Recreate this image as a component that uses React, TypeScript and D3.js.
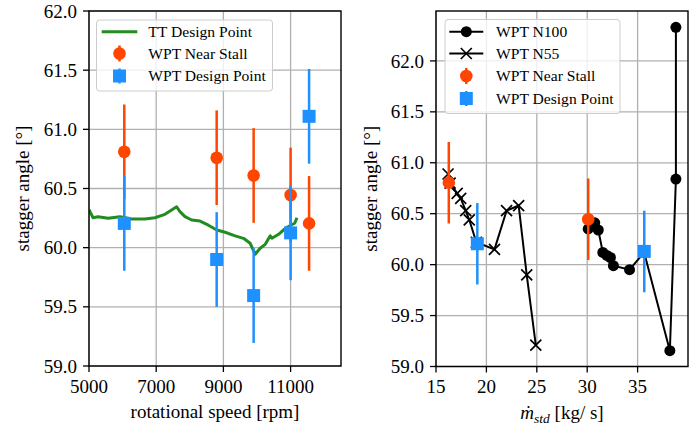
import React from 'react';
import * as d3 from 'd3';

// ---------- data ----------
const ttSpeed = [5000, 5120, 5270, 5570, 5916, 6050, 6265, 6663, 6961, 7260, 7458, 7608, 7707, 7857, 8056, 8305, 8553, 8802, 9051, 9349, 9597, 9797, 9946, 10095, 10245, 10394, 10444, 10643, 10842, 10980, 11120, 11190];
const ttAngle = [60.32, 60.253, 60.262, 60.248, 60.262, 60.255, 60.242, 60.242, 60.253, 60.282, 60.318, 60.346, 60.304, 60.262, 60.234, 60.225, 60.19, 60.149, 60.13, 60.1, 60.079, 60.037, 59.944, 59.995, 60.028, 60.1, 60.08, 60.113, 60.163, 60.185, 60.206, 60.253];

const stallSpeed = [6050, 8800, 9900, 11000, 11550];
const stallAngle = [60.81, 60.76, 60.61, 60.445, 60.205];
const designSpeed = [6050, 8800, 9900, 11000, 11550];
const designAngle = [60.205, 59.9, 59.595, 60.125, 61.11];
const errLeft = 0.4;

const n100Mass = [30.1, 30.75, 31.1, 31.55, 31.95, 32.3, 32.6, 34.2, 35.65, 38.2, 38.8, 38.8];
const n100Angle = [60.35, 60.41, 60.34, 60.12, 60.09, 60.07, 59.99, 59.95, 60.12, 59.155, 60.84, 62.33];
const n55Mass = [16.2, 16.4, 17.1, 17.45, 17.95, 18.3, 19.0, 20.8, 22.0, 23.2, 24.0, 24.9];
const n55Angle = [60.89, 60.8, 60.7, 60.65, 60.53, 60.44, 60.22, 60.15, 60.53, 60.58, 59.9, 59.21];
const stallMass = [16.27, 30.1];
const stallAngleR = [60.805, 60.445];
const designMass = [19.1, 35.66];
const designAngleR = [60.205, 60.13];
const errRight = 0.4;

const leftXTicks = [5000, 7000, 9000, 11000];
const yTicks = [59.0, 59.5, 60.0, 60.5, 61.0, 61.5, 62.0];
const rightXTicks = [15, 20, 25, 30, 35];

// ---------- style ----------
const FONT = '"Liberation Serif", "Times New Roman", serif';
const GREEN = '#228B22';
const ORANGE = '#FF4500';
const BLUE = '#1E90FF';
const GRID = '#b0b0b0';

const L = { x0: 89, x1: 341, y0: 11, y1: 366 };
const R = { x0: 436, x1: 688, y0: 11, y1: 366.5 };

const xL = d3.scaleLinear().domain([5000, 12500]).range([L.x0, L.x1]);
const yL = d3.scaleLinear().domain([59, 62]).range([L.y1, L.y0]);
const xR = d3.scaleLinear().domain([15, 40]).range([R.x0, R.x1]);
const yR = d3.scaleLinear().domain([59.0, 62.49]).range([R.y1, R.y0]);

function Circle({ cx, cy, r, fill }: any) {
  return <circle cx={cx} cy={cy} r={r} fill={fill} />;
}
function Square({ cx, cy, s, fill }: any) {
  return <rect x={cx - s / 2} y={cy - s / 2} width={s} height={s} fill={fill} />;
}
function XMark({ cx, cy, s }: any) {
  return (
    <path d={`M${cx - s},${cy - s}L${cx + s},${cy + s}M${cx - s},${cy + s}L${cx + s},${cy - s}`} stroke="#000" strokeWidth={1.7} />
  );
}

function Axes({ box, xs, ys, xticks, xfmt }: any) {
  return (
    <g>
      {xticks.map((t: number) => (
        <line key={'gx' + t} x1={xs(t)} x2={xs(t)} y1={box.y0} y2={box.y1} stroke={GRID} strokeWidth={1.3} />
      ))}
      {yTicks.map((t) => (
        <line key={'gy' + t} x1={box.x0} x2={box.x1} y1={ys(t)} y2={ys(t)} stroke={GRID} strokeWidth={1.3} />
      ))}
    </g>
  );
}

function Frame({ box, xs, ys, xticks, xfmt }: any) {
  return (
    <g fontFamily={FONT} fontSize={19} fill="#000">
      <rect x={box.x0} y={box.y0} width={box.x1 - box.x0} height={box.y1 - box.y0} fill="none" stroke="#000" strokeWidth={1.4} />
      {xticks.map((t: number) => (
        <g key={'tx' + t}>
          <line x1={xs(t)} x2={xs(t)} y1={box.y1} y2={box.y1 + 6} stroke="#000" strokeWidth={1.3} />
          <text x={xs(t)} y={393} textAnchor="middle">{xfmt(t)}</text>
        </g>
      ))}
      {yTicks.map((t) => (
        <g key={'ty' + t}>
          <line x1={box.x0 - 6} x2={box.x0} y1={ys(t)} y2={ys(t)} stroke="#000" strokeWidth={1.3} />
          <text x={box.x0 - 12} y={ys(t)} dy="0.35em" textAnchor="end">{d3.format('.1f')(t)}</text>
        </g>
      ))}
    </g>
  );
}

function ErrBars({ xs, ys, xv, yv, err, color }: any) {
  return (
    <g>
      {xv.map((x: number, i: number) => (
        <line key={i} x1={xs(x)} x2={xs(x)} y1={ys(yv[i] - err)} y2={ys(yv[i] + err)} stroke={color} strokeWidth={2.5} />
      ))}
    </g>
  );
}

export default function App() {
  const ttLine = d3.line<number>().x((d, i) => xL(ttSpeed[i])).y((d) => yL(d))(ttAngle) as string;
  const n100Line = d3.line<number>().x((d, i) => xR(n100Mass[i])).y((d) => yR(d))(n100Angle) as string;
  const n55Line = d3.line<number>().x((d, i) => xR(n55Mass[i])).y((d) => yR(d))(n55Angle) as string;

  const lLeg = { x: 96.5, y: 20, w: 176, h: 71 };
  const rLeg = { x: 445, y: 19.5, w: 175, h: 94 };

  return (
    <svg width={694} height={429} style={{ position: 'absolute', left: 0, top: 0, background: '#fff' }}>
      <rect x={0} y={0} width={694} height={429} fill="#fff" />
      {/* ---------------- LEFT ---------------- */}
      <defs>
        <clipPath id="clipL"><rect x={L.x0} y={L.y0} width={L.x1 - L.x0} height={L.y1 - L.y0} /></clipPath>
        <clipPath id="clipR"><rect x={R.x0} y={R.y0} width={R.x1 - R.x0} height={R.y1 - R.y0} /></clipPath>
      </defs>
      <Axes box={L} xs={xL} ys={yL} xticks={leftXTicks} />
      <g clipPath="url(#clipL)">
        <path d={ttLine} fill="none" stroke={GREEN} strokeWidth={3} strokeLinejoin="round" />
        <ErrBars xs={xL} ys={yL} xv={stallSpeed} yv={stallAngle} err={errLeft} color={ORANGE} />
        {stallSpeed.map((x, i) => <Circle key={'sl' + i} cx={xL(x)} cy={yL(stallAngle[i])} r={6.3} fill={ORANGE} />)}
        <ErrBars xs={xL} ys={yL} xv={designSpeed} yv={designAngle} err={errLeft} color={BLUE} />
        {designSpeed.map((x, i) => <Square key={'dl' + i} cx={xL(x)} cy={yL(designAngle[i])} s={13} fill={BLUE} />)}
      </g>
      <Frame box={L} xs={xL} ys={yL} xticks={leftXTicks} xfmt={(t: number) => String(t)} />
      <text x={(L.x0 + L.x1) / 2} y={418} textAnchor="middle" fontFamily={FONT} fontSize={19}>rotational speed [rpm]</text>
      <text transform={`translate(28.5,${(L.y0 + L.y1) / 2}) rotate(-90)`} textAnchor="middle" fontFamily={FONT} fontSize={19}>stagger angle [°]</text>

      {/* left legend */}
      <g fontFamily={FONT} fontSize={15.6}>
        <rect x={lLeg.x} y={lLeg.y} width={lLeg.w} height={lLeg.h} rx={3} fill="#fff" fillOpacity={0.8} stroke="#cccccc" strokeWidth={1} />
        <line x1={101.7} x2={137.3} y1={31.7} y2={31.7} stroke={GREEN} strokeWidth={3} />
        <text x={148.3} y={31.7} dy="0.35em">TT Design Point</text>
        <line x1={119.5} x2={119.5} y1={45.5} y2={61.5} stroke={ORANGE} strokeWidth={2.5} />
        <Circle cx={119.5} cy={53.5} r={6.3} fill={ORANGE} />
        <text x={148.3} y={53.5} dy="0.35em">WPT Near Stall</text>
        <line x1={119.5} x2={119.5} y1={68.5} y2={83.5} stroke={BLUE} strokeWidth={2.5} />
        <Square cx={119.5} cy={76} s={13} fill={BLUE} />
        <text x={148.3} y={76} dy="0.35em">WPT Design Point</text>
      </g>

      {/* ---------------- RIGHT ---------------- */}
      <Axes box={R} xs={xR} ys={yR} xticks={rightXTicks} />
      <g clipPath="url(#clipR)">
        <path d={n100Line} fill="none" stroke="#000" strokeWidth={2} />
        {n100Mass.map((x, i) => <Circle key={'n1' + i} cx={xR(x)} cy={yR(n100Angle[i])} r={5.5} fill="#000" />)}
        <path d={n55Line} fill="none" stroke="#000" strokeWidth={2} />
        {n55Mass.map((x, i) => <XMark key={'n5' + i} cx={xR(x)} cy={yR(n55Angle[i])} s={5.5} />)}
        <ErrBars xs={xR} ys={yR} xv={stallMass} yv={stallAngleR} err={errRight} color={ORANGE} />
        {stallMass.map((x, i) => <Circle key={'sr' + i} cx={xR(x)} cy={yR(stallAngleR[i])} r={6.3} fill={ORANGE} />)}
        <ErrBars xs={xR} ys={yR} xv={designMass} yv={designAngleR} err={errRight} color={BLUE} />
        {designMass.map((x, i) => <Square key={'dr' + i} cx={xR(x)} cy={yR(designAngleR[i])} s={13} fill={BLUE} />)}
      </g>
      <Frame box={R} xs={xR} ys={yR} xticks={rightXTicks} xfmt={(t: number) => String(t)} />
      <text x={(R.x0 + R.x1) / 2} y={419} textAnchor="middle" fontFamily={FONT} fontSize={19}>
        <tspan fontStyle="italic">{'m\u0307'}</tspan>
        <tspan fontStyle="italic" fontSize={13.5} dy={4}>std</tspan>
        <tspan dy={-4}>{' [kg/ s]'}</tspan>
      </text>
      <text transform={`translate(376.5,${(R.y0 + R.y1) / 2}) rotate(-90)`} textAnchor="middle" fontFamily={FONT} fontSize={19}>stagger angle [°]</text>

      {/* right legend */}
      <g fontFamily={FONT} fontSize={15.6}>
        <rect x={rLeg.x} y={rLeg.y} width={rLeg.w} height={rLeg.h} rx={3} fill="#fff" fillOpacity={0.8} stroke="#cccccc" strokeWidth={1} />
        <line x1={449.3} x2={483.3} y1={31.7} y2={31.7} stroke="#000" strokeWidth={2} />
        <Circle cx={466.3} cy={31.7} r={5.5} fill="#000" />
        <text x={496} y={31.7} dy="0.35em">WPT N100</text>
        <line x1={449.3} x2={483.3} y1={53.5} y2={53.5} stroke="#000" strokeWidth={2} />
        <XMark cx={466.3} cy={53.5} s={5.5} />
        <text x={496} y={53.5} dy="0.35em">WPT N55</text>
        <line x1={466.3} x2={466.3} y1={68} y2={84} stroke={ORANGE} strokeWidth={2.5} />
        <Circle cx={466.3} cy={76} r={6.3} fill={ORANGE} />
        <text x={496} y={76} dy="0.35em">WPT Near Stall</text>
        <line x1={466.3} x2={466.3} y1={91} y2={106} stroke={BLUE} strokeWidth={2.5} />
        <Square cx={466.3} cy={98.5} s={13} fill={BLUE} />
        <text x={496} y={98.5} dy="0.35em">WPT Design Point</text>
      </g>
    </svg>
  );
}
